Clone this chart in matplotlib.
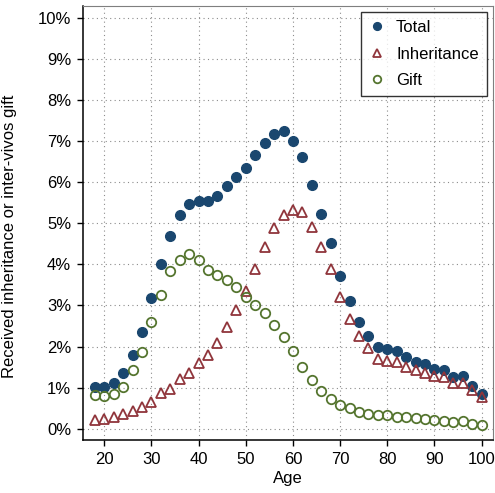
import matplotlib
matplotlib.use("Agg")
import matplotlib.pyplot as plt
from matplotlib.ticker import FuncFormatter

plt.rcParams['font.family'] = ['Liberation Sans', 'DejaVu Sans']

ages = list(range(18, 101, 2))

total = [1.02, 1.03, 1.11, 1.36, 1.80, 2.35, 3.18, 4.02, 4.70, 5.19,
         5.46, 5.53, 5.53, 5.66, 5.91, 6.12, 6.33, 6.66, 6.96, 7.17,
         7.23, 7.00, 6.61, 5.94, 5.23, 4.52, 3.72, 3.11, 2.60, 2.27,
         2.00, 1.93, 1.90, 1.75, 1.63, 1.58, 1.45, 1.42, 1.26, 1.29,
         1.04, 0.85]

inheritance = [0.22, 0.25, 0.30, 0.37, 0.44, 0.53, 0.66, 0.87, 0.98, 1.21,
               1.36, 1.59, 1.80, 2.08, 2.47, 2.89, 3.35, 3.88, 4.41, 4.88,
               5.20, 5.33, 5.27, 4.90, 4.43, 3.88, 3.21, 2.68, 2.26, 1.96,
               1.71, 1.65, 1.62, 1.50, 1.42, 1.36, 1.28, 1.25, 1.12, 1.12,
               0.95, 0.78]

gift = [0.83, 0.81, 0.84, 1.02, 1.42, 1.88, 2.59, 3.25, 3.83, 4.11,
        4.24, 4.11, 3.87, 3.75, 3.62, 3.45, 3.20, 3.01, 2.82, 2.52,
        2.24, 1.89, 1.51, 1.19, 0.92, 0.72, 0.59, 0.50, 0.40, 0.36,
        0.33, 0.33, 0.30, 0.28, 0.26, 0.25, 0.21, 0.19, 0.17, 0.20,
        0.12, 0.09]

NAVY = "#1a476f"
MAROON = "#90353b"
GREEN = "#55752f"

fig = plt.figure(figsize=(4.95, 4.93), dpi=100)
ax = fig.add_axes([83/495, 1 - 440/493, 410/495, 434/493])

ax.plot(ages, total, ls='none', marker='o', ms=7, color=NAVY, mec=NAVY, label='Total', zorder=3)
ax.plot(ages, inheritance, ls='none', marker='^', ms=7.6, mfc='none', mec=MAROON, mew=1.3,
        label='Inheritance', zorder=3)
ax.plot(ages, gift, ls='none', marker='o', ms=6.8, mfc='none', mec=GREEN, mew=1.3,
        label='Gift', zorder=3)

ax.set_xlim(15.5, 102.4)
ax.set_ylim(-0.27, 10.28)
ax.set_xticks(range(20, 101, 10))
ax.set_yticks(range(0, 11))
ax.yaxis.set_major_formatter(FuncFormatter(lambda y, _: f'{int(y)}%'))
ax.tick_params(direction='out', length=4.5, width=1, labelsize=12, colors='black', pad=4)
ax.grid(True, ls=(0, (1, 3)), color='#8c8c8c', lw=0.8)
ax.set_axisbelow(True)

for side in ('top', 'right'):
    ax.spines[side].set_color('#7f7f7f')
for side in ('left', 'bottom'):
    ax.spines[side].set_color('black')
    ax.spines[side].set_linewidth(1.1)

ax.set_xlabel('Age', fontsize=12, labelpad=3)
ax.set_ylabel('Received inheritance or inter-vivos gift', fontsize=12)
ax.yaxis.set_label_coords(-66/410, 0.47)

leg = ax.legend(loc='upper right', bbox_to_anchor=(1 - 6/410, 1 - 6/434), borderaxespad=0,
                fontsize=12, frameon=True, fancybox=False, edgecolor='black', borderpad=0.5,
                handlelength=0.9, handletextpad=0.7, labelspacing=0.68, markerscale=0.8)
leg.get_frame().set_linewidth(1.0)

fig.savefig("out.png", dpi=100)
